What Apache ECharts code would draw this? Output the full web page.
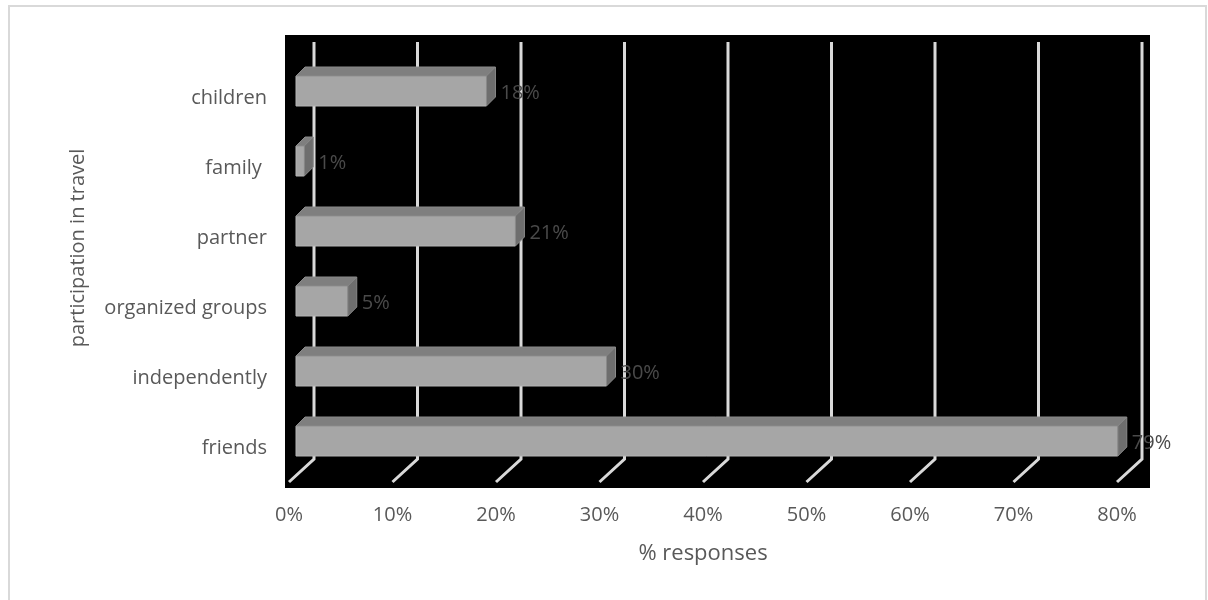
<!DOCTYPE html>
<html>
<head>
<meta charset="utf-8">
<script src="https://cdn.jsdelivr.net/npm/echarts@6/dist/echarts.min.js"></script>
<style>
    html, body { margin: 0; padding: 0; background: #fff; }
    #chart { width: 1208px; height: 600px; }
</style>
</head>
<body>
<div id="chart"></div>
<script>
// categories top to bottom
var categories = ["children", "family ", "partner", "organized groups", "independently", "friends"];
// % responses
var values = [18.4, 0.8, 21.2, 5.0, 30.0, 79.4];
var xTicks = [0, 10, 20, 30, 40, 50, 60, 70, 80];

var FONT = "Open Sans";
var chart = echarts.init(document.getElementById("chart"));

var barData = values.map(function (v, i) { return [v, i]; });
var gridData = xTicks.map(function (t) { return [t, 0]; });

// 3d bar: front face, top face, side face + label
function renderBar(params, api) {
    var val = api.value(0);
    var cat = api.value(1);
    var p0 = api.coord([0, cat]);
    var p1 = api.coord([val, cat]);
    var d = 7, h = 30, dep = 9;
    var x0 = p0[0] + d, x1 = p1[0] + d, yc = p0[1] - d;
    var yt = yc - h / 2, yb = yc + h / 2;
    return {
        type: "group",
        children: [
            {
                type: "rect",
                shape: { x: x0, y: yt, width: x1 - x0, height: h },
                style: { fill: "#a6a6a6", stroke: "#b4b4b4", lineWidth: 1 }
            },
            {
                type: "polygon",
                shape: { points: [[x0, yt], [x0 + dep, yt - dep], [x1 + dep, yt - dep], [x1, yt]] },
                style: { fill: "#7f7f7f", stroke: "#8a8a8a", lineWidth: 1 }
            },
            {
                type: "polygon",
                shape: { points: [[x1, yt], [x1 + dep, yt - dep], [x1 + dep, yb - dep], [x1, yb]] },
                style: { fill: "#6e6e6e", stroke: "#8a8a8a", lineWidth: 1 }
            },
            {
                type: "text",
                style: {
                    x: x1 + dep + 5, y: yc + 2,
                    text: Math.round(val) + "%",
                    fill: "#4a4a4a", font: "20px '" + FONT + "'",
                    align: "left", verticalAlign: "middle"
                }
            }
        ]
    };
}

// back wall gridlines with the slanted floor part
function renderGridLine(params, api) {
    var x = api.coord([api.value(0), 0])[0];
    var cs = params.coordSys;
    var bottom = cs.y + cs.height;
    return {
        type: "polyline",
        shape: { points: [[x + 25, cs.y - 21], [x + 25, bottom - 24], [x, bottom - 1]] },
        style: { stroke: "#d9d9d9", lineWidth: 3, fill: null }
    };
}

var option = {
    animation: false,
    textStyle: { fontFamily: FONT },
    grid: { left: 289, right: 91, top: 63, bottom: 117 },
    xAxis: {
        type: "value",
        min: 0,
        max: 80,
        interval: 10,
        axisLine: { show: false },
        axisTick: { show: false },
        splitLine: { show: false },
        axisLabel: { formatter: "{value}%", color: "#595959", fontSize: 20, margin: 22 },
        name: "% responses",
        nameLocation: "middle",
        nameGap: 60,
        nameTextStyle: { color: "#595959", fontSize: 22 }
    },
    yAxis: {
        type: "category",
        data: categories,
        inverse: true,
        axisLine: { show: false },
        axisTick: { show: false },
        axisLabel: { color: "#595959", fontSize: 20, margin: 22 }
    },
    graphic: {
        elements: [
            {
                type: "rect", silent: true, z: -10,
                shape: { x: 9, y: 6, width: 1197, height: 610 },
                style: { fill: "none", stroke: "#d9d9d9", lineWidth: 2 }
            },
            {
                type: "rect", silent: true, z: -5,
                shape: { x: 285, y: 35, width: 865, height: 453 },
                style: { fill: "#000" }
            },
            {
                type: "text", silent: true,
                x: 78, y: 248, rotation: Math.PI / 2,
                style: {
                    text: "participation in travel",
                    fill: "#595959", font: "20px '" + FONT + "'",
                    align: "center", verticalAlign: "middle"
                }
            }
        ]
    },
    series: [
        {
            type: "custom",
            z: 1,
            renderItem: renderGridLine,
            encode: { x: 0, y: 1 },
            data: gridData
        },
        {
            type: "custom",
            z: 3,
            renderItem: renderBar,
            encode: { x: 0, y: 1 },
            data: barData
        }
    ]
};

chart.setOption(option);
</script>
</body>
</html>
